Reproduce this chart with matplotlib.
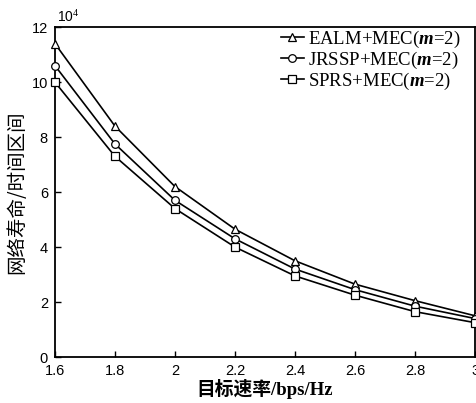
import matplotlib.pyplot as plt

plt.rcParams['font.family'] = ['Liberation Sans', 'DejaVu Sans']
plt.rcParams['mathtext.fontset'] = 'custom'
plt.rcParams['mathtext.rm'] = 'Liberation Serif'
plt.rcParams['mathtext.it'] = 'Liberation Serif:italic:bold'
plt.rcParams['mathtext.bf'] = 'Liberation Serif:bold'

rate = [1.6, 1.8, 2.0, 2.2, 2.4, 2.6, 2.8, 3.0]
ealm = [11.4, 8.4, 6.2, 4.65, 3.5, 2.65, 2.05, 1.5]
jrssp = [10.6, 7.75, 5.7, 4.3, 3.2, 2.45, 1.85, 1.4]
sprs = [10.0, 7.3, 5.4, 4.0, 2.95, 2.25, 1.65, 1.25]
names = ['EALM+MEC($m$=2)', 'JRSSP+MEC($m$=2)', 'SPRS+MEC($m$=2)']
xticks = [1.6, 1.8, 2, 2.2, 2.4, 2.6, 2.8, 3]
xticklabels = ['1.6', '1.8', '2', '2.2', '2.4', '2.6', '2.8', '3']
yticks = [0, 2, 4, 6, 8, 10, 12]

fig = plt.figure(figsize=(4.77, 4.03), dpi=100)
ax = fig.add_axes([0.115, 0.114, 0.881, 0.819])

for ys, mk, nm in zip([ealm, jrssp, sprs], ['^', 'o', 's'], names):
    ax.plot(rate, ys, color='black', lw=1.2, marker=mk, markersize=5.5,
            markerfacecolor='white', markeredgecolor='black', markeredgewidth=0.9,
            label=nm, clip_on=False, zorder=3)

ax.set_xlim(1.6, 3)
ax.set_ylim(0, 12)
ax.set_xticks(xticks)
ax.set_xticklabels(xticklabels)
ax.set_yticks(yticks)
ax.tick_params(direction='in', labelsize=10.5, length=4, width=1,
               top=False, right=False, pad=5)
for s in ax.spines.values():
    s.set_linewidth(1.3)

fig.text(0.119, 0.946, r'10$^4$', fontsize=10, ha='left', va='baseline',
         family=['Liberation Sans'])

ax.set_xlabel('目标速率/bps/Hz', fontsize=13.5, fontweight='bold',
              family=['Liberation Serif', 'Noto Sans CJK SC'], labelpad=1)
ax.set_ylabel('网络寿命/时间区间', fontsize=14,
              family=['Noto Sans CJK SC', 'DejaVu Sans'], labelpad=3)

leg = ax.legend(loc='upper right', bbox_to_anchor=(0.965, 0.995), frameon=False,
                handlelength=1.25, handletextpad=0.2, labelspacing=0.0,
                borderaxespad=0, borderpad=0,
                prop={'family': 'Liberation Serif', 'size': 13.5})

fig.savefig('out.png', dpi=100)
